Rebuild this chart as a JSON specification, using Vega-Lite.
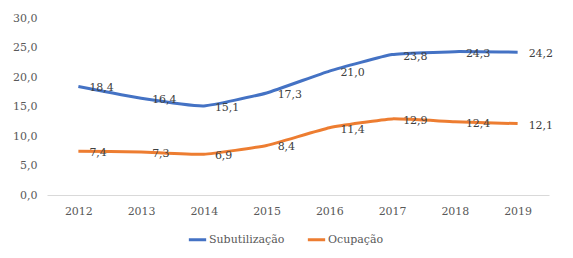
{
  "$schema": "https://vega.github.io/schema/vega-lite/v6.json",
  "width": 502,
  "height": 177,
  "autosize": {"type": "none"},
  "padding": {"left": 47, "top": 18, "right": 24, "bottom": 63},
  "background": "white",
  "config": {
    "locale": {"number": {"decimal": ",", "thousands": ".", "grouping": [3], "currency": ["R$", ""]}},
    "font": "DejaVu Serif",
    "view": {"stroke": null},
    "axis": {"labelFont": "DejaVu Serif", "labelFontSize": 11, "labelColor": "#595959", "ticks": false, "title": null},
    "legend": {"labelFont": "DejaVu Serif"},
    "text": {"font": "DejaVu Serif"}
  },
  "data": {
    "values": [
      {"ano": "2012", "serie": "Subutilização", "v": 18.4},
      {"ano": "2013", "serie": "Subutilização", "v": 16.4},
      {"ano": "2014", "serie": "Subutilização", "v": 15.1},
      {"ano": "2015", "serie": "Subutilização", "v": 17.3},
      {"ano": "2016", "serie": "Subutilização", "v": 21.0},
      {"ano": "2017", "serie": "Subutilização", "v": 23.8},
      {"ano": "2018", "serie": "Subutilização", "v": 24.3},
      {"ano": "2019", "serie": "Subutilização", "v": 24.2},
      {"ano": "2012", "serie": "Ocupação", "v": 7.4},
      {"ano": "2013", "serie": "Ocupação", "v": 7.3},
      {"ano": "2014", "serie": "Ocupação", "v": 6.9},
      {"ano": "2015", "serie": "Ocupação", "v": 8.4},
      {"ano": "2016", "serie": "Ocupação", "v": 11.4},
      {"ano": "2017", "serie": "Ocupação", "v": 12.9},
      {"ano": "2018", "serie": "Ocupação", "v": 12.4},
      {"ano": "2019", "serie": "Ocupação", "v": 12.1}
    ]
  },
  "encoding": {
    "x": {"field": "ano", "type": "ordinal", "scale": {"type": "point", "padding": 0.5},
      "axis": {"labelAngle": 0, "domain": true, "domainColor": "#d9d9d9", "domainWidth": 1, "grid": false, "labelPadding": 10}},
    "y": {"field": "v", "type": "quantitative", "scale": {"domain": [0, 30], "nice": false},
      "axis": {"values": [0, 5, 10, 15, 20, 25, 30], "format": ".1f", "domain": false, "grid": false, "labelPadding": 10}},
    "color": {"field": "serie", "type": "nominal",
      "scale": {"domain": ["Subutilização", "Ocupação"], "range": ["#4472C4", "#ED7D31"]},
      "legend": {"orient": "none", "legendX": 140, "legendY": 211, "direction": "horizontal", "title": null, "symbolType": "stroke", "symbolStrokeWidth": 3, "symbolSize": 300, "labelFontSize": 11, "labelColor": "#595959", "columnPadding": 16, "labelOffset": 1}}
  },
  "layer": [
    {"mark": {"type": "line", "interpolate": "cardinal", "tension": 0.6, "strokeWidth": 3}},
    {"mark": {"type": "text", "align": "left", "baseline": "middle", "dx": 11, "dy": 2, "fontSize": 11},
      "encoding": {"text": {"field": "v", "type": "quantitative", "format": ".1f"}, "color": {"value": "#404040"}}}
  ]
}
